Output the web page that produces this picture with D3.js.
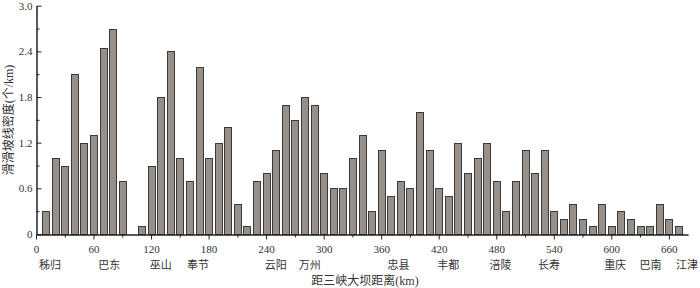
<!DOCTYPE html>
<html lang="zh">
<head>
    <meta charset="UTF-8">
    <title>滑坡线密度</title>
    <script src="https://d3js.org/d3.v7.min.js"></script>
    <style>
        body {
            margin: 0;
            background: #fff;
        }

        svg text {
            font-family: "Liberation Serif", "Noto Sans CJK SC", serif;
            fill: #333;
        }

        .bar {
            fill: #978f8a;
            stroke: #3a3a3a;
            stroke-width: 1;
        }

        .axis path,
        .axis line {
            stroke: #222;
            stroke-width: 1;
        }

        .axis text {
            font-size: 11px;
        }

        .place {
            font-size: 11px;
            text-anchor: middle;
        }
    </style>
</head>
<body>
    <svg id="chart" width="700" height="288"></svg>

    <script>
        // 距三峡大坝距离 (km)
        const distances = [10, 20, 30, 40, 50, 60, 70, 80, 90, 100,
            110, 120, 130, 140, 150, 160, 170, 180, 190, 200,
            210, 220, 230, 240, 250, 260, 270, 280, 290, 300,
            310, 320, 330, 340, 350, 360, 370, 380, 390, 400,
            410, 420, 430, 440, 450, 460, 470, 480, 490, 500,
            510, 520, 530, 540, 550, 560, 570, 580, 590, 600,
            610, 620, 630, 640, 650, 660, 670];

        // 滑坡线密度 (个/km)
        const density = [0.3, 1.0, 0.9, 2.1, 1.2, 1.3, 2.45, 2.7, 0.7, 0,
            0.1, 0.9, 1.8, 2.4, 1.0, 0.7, 2.2, 1.0, 1.2, 1.4,
            0.4, 0.1, 0.7, 0.8, 1.1, 1.7, 1.5, 1.8, 1.7, 0.8,
            0.6, 0.6, 1.0, 1.3, 0.3, 1.1, 0.5, 0.7, 0.6, 1.6,
            1.1, 0.6, 0.5, 1.2, 0.8, 1.0, 1.2, 0.7, 0.3, 0.7,
            1.1, 0.8, 1.1, 0.3, 0.2, 0.4, 0.2, 0.1, 0.4, 0.1,
            0.3, 0.2, 0.1, 0.1, 0.4, 0.2, 0.1];

        const xMajorTicks = [0, 60, 120, 180, 240, 300, 360, 420, 480, 540, 600, 660];
        const xMinorTicks = [30, 90, 150, 210, 270, 330, 390, 450, 510, 570, 630];
        const yMajorTicks = [0, 0.6, 1.2, 1.8, 2.4, 3.0];
        const yMinorTicks = [0.3, 0.9, 1.5, 2.1, 2.7];

        // 沿江城镇
        const places = ["秭归", "巴东", "巫山", "奉节", "云阳", "万州", "忠县", "丰都", "涪陵", "长寿", "重庆", "巴南", "江津"];
        const placeKm = [14.5, 76.5, 130, 169, 250, 285.5, 378, 430, 484.5, 535, 604, 641, 679];

        const svg = d3.select("#chart");

        const x = d3.scaleLinear().domain([0, 680]).range([36, 688]);
        const y = d3.scaleLinear().domain([0, 3]).range([234, 5.7]);

        const barW = 7;

        const bars = distances.map((d, i) => ({ km: d, v: density[i] })).filter(d => d.v > 0);

        svg.selectAll(".bar")
            .data(bars)
            .enter()
            .append("rect")
            .attr("class", "bar")
            .attr("x", d => Math.round(x(d.km) - barW / 2) + 0.5)
            .attr("y", d => Math.round(y(d.v)) + 0.5)
            .attr("width", barW)
            .attr("height", d => Math.round(y(0)) - Math.round(y(d.v)));

        // x 轴: 主刻度 + 次刻度, 刻度朝外
        svg.append("g")
            .attr("class", "axis")
            .attr("transform", `translate(0, ${Math.round(y(0)) + 0.5})`)
            .call(d3.axisBottom(x).tickValues(xMinorTicks).tickSize(3).tickSizeOuter(0).tickFormat(""));

        svg.append("g")
            .attr("class", "axis")
            .attr("transform", `translate(0, ${Math.round(y(0)) + 0.5})`)
            .call(d3.axisBottom(x).tickValues(xMajorTicks).tickSize(5).tickSizeOuter(0).tickPadding(6).tickFormat(d3.format("d")));

        // y 轴: 刻度朝内
        svg.append("g")
            .attr("class", "axis")
            .attr("transform", `translate(${Math.round(x(0)) + 0.5}, 0)`)
            .call(d3.axisLeft(y).tickValues(yMinorTicks).tickSize(-3).tickSizeOuter(0).tickFormat(""));

        svg.append("g")
            .attr("class", "axis")
            .attr("transform", `translate(${Math.round(x(0)) + 0.5}, 0)`)
            .call(d3.axisLeft(y).tickValues(yMajorTicks).tickSize(-5).tickSizeOuter(0).tickPadding(4)
                .tickFormat(d => d === 0 ? "0" : d3.format(".1f")(d)));

        svg.selectAll(".place")
            .data(places)
            .enter()
            .append("text")
            .attr("class", "place")
            .attr("x", (d, i) => x(placeKm[i]))
            .attr("y", 269)
            .text(d => d);

        svg.append("text")
            .attr("x", 365)
            .attr("y", 284.5)
            .attr("text-anchor", "middle")
            .style("font-size", "12px")
            .text("距三峡大坝距离(km)");

        svg.append("text")
            .attr("transform", "translate(13, 120) rotate(-90)")
            .attr("text-anchor", "middle")
            .style("font-size", "12px")
            .text("滑滑坡线密度(个/km)");
    </script>
</body>
</html>
